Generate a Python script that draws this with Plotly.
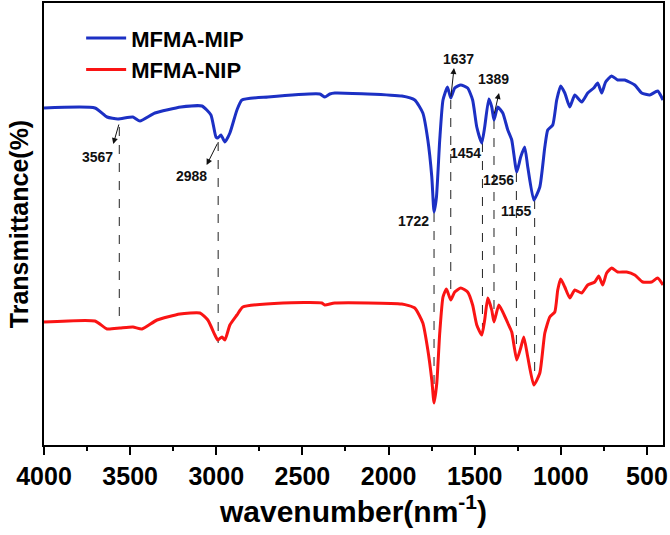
import plotly.graph_objects as go

# ---- data (wavenumber, relative transmittance, arbitrary units) ----
mip_wn = [4000, 3704, 3634, 3571, 3484, 3443, 3356, 3205, 3083, 3031, 3002, 2991, 2973, 2950, 2921,
          2880, 2851, 2700, 2399, 2370, 2341, 2312, 1923, 1848, 1801, 1772, 1749, 1736, 1722, 1703,
          1684, 1658, 1639, 1616, 1581, 1541, 1512, 1488, 1459, 1442, 1418, 1401, 1388, 1366, 1337,
          1308, 1285, 1256, 1233, 1210, 1192, 1157, 1122, 1093, 1076, 1047, 1024, 1001, 977, 948,
          919, 879, 844, 809, 786, 763, 740, 705, 670, 629, 571, 531, 484, 438, 407]
mip_t = [337, 337, 328, 326, 328, 324, 332, 338, 339, 330, 308, 307, 310, 303, 312,
         335, 345, 348, 351, 348, 351, 352, 349, 345, 332, 305, 268, 233, 248, 305,
         345, 358, 347, 357, 360, 357, 345, 318, 302, 318, 346, 338, 325, 338, 332,
         315, 305, 273, 288, 298, 278, 245, 258, 298, 315, 320, 345, 359, 352, 338,
         350, 343, 352, 357, 362, 352, 363, 369, 365, 365, 360, 352, 350, 354, 345]

nip_wn = [4000, 3704, 3634, 3559, 3484, 3431, 3344, 3211, 3095, 3049, 3008, 2991, 2967, 2950, 2921,
          2880, 2846, 2613, 2387, 2370, 2312, 1923, 1848, 1801, 1772, 1749, 1736, 1720, 1703, 1684,
          1664, 1639, 1616, 1581, 1541, 1512, 1488, 1459, 1442, 1424, 1401, 1388, 1360, 1337, 1308,
          1285, 1256, 1233, 1215, 1192, 1157, 1122, 1093, 1064, 1035, 1018, 1001, 977, 948, 919,
          879, 844, 803, 780, 757, 734, 705, 670, 618, 571, 525, 473, 438, 407]
nip_t = [123, 124, 116, 117, 118, 116, 125, 131, 132, 125, 110, 105, 108, 105, 120,
         130, 138, 142, 142, 140, 142, 141, 137, 122, 95, 65, 42, 62, 112, 148,
         156, 145, 153, 157, 153, 140, 120, 110, 125, 147, 135, 123, 140, 133, 122,
         113, 85, 97, 108, 88, 60, 72, 112, 128, 133, 155, 166, 158, 147, 155,
         152, 160, 163, 169, 160, 172, 177, 173, 173, 170, 163, 163, 167, 160]

# peak markers: label, line position, dashed line top/bottom, label position
peak_labels = ["3567", "2988", "1722", "1637", "1454", "1389", "1256", "1155"]
peak_line_x = [3563, 2989, 1736, 1639, 1455, 1388, 1258, 1152]
peak_line_top = [318, 303, 232, 345, 302, 325, 272, 245]
peak_line_bot = [122, 102, 42, 145, 118, 123, 95, 68]
label_x = [3692, 3141, 1857, 1592, 1554, 1393, 1364, 1258]
label_y = [288, 269, 224, 386, 292, 366, 265, 234]
# arrows (tail on curve -> head)
arrow_tail_x = [3563, 2989, 1639, 1388]
arrow_tail_y = [322, 303, 347, 330]
arrow_head_x = [3598, 3056, 1620, 1359]
arrow_head_y = [301, 280, 377, 352]

xticks = [4000, 3500, 3000, 2500, 2000, 1500, 1000, 500]

FONT = "Liberation Sans, Arial, sans-serif"
BLUE = "#1c30c4"
RED = "#fa1414"

fig = go.Figure()
fig.add_trace(go.Scatter(x=mip_wn, y=mip_t, mode="lines", name="<b>MFMA-MIP</b>",
                         line=dict(color=BLUE, width=3, shape="spline", smoothing=0.5)))
fig.add_trace(go.Scatter(x=nip_wn, y=nip_t, mode="lines", name="<b>MFMA-NIP</b>",
                         line=dict(color=RED, width=3, shape="spline", smoothing=0.5)))

for x, y0, y1 in zip(peak_line_x, peak_line_top, peak_line_bot):
    fig.add_shape(type="line", x0=x, x1=x, y0=y0, y1=y1, xref="x", yref="y",
                  line=dict(color="#222222", width=1, dash="dash"), layer="below")

for t, x, y in zip(peak_labels, label_x, label_y):
    fig.add_annotation(x=x, y=y, text=f"<b>{t}</b>", showarrow=False,
                       font=dict(family=FONT, size=14, color="#111111"))

for tx, ty, hx, hy in zip(arrow_tail_x, arrow_tail_y, arrow_head_x, arrow_head_y):
    fig.add_annotation(x=hx, y=hy, ax=tx, ay=ty, xref="x", yref="y", axref="x", ayref="y",
                       text="", showarrow=True, arrowhead=2, arrowsize=1.2, arrowwidth=1,
                       arrowcolor="#111111")

fig.update_layout(
    width=670, height=535,
    margin=dict(l=44, r=7, t=3, b=90),
    plot_bgcolor="white", paper_bgcolor="white",
    font=dict(family=FONT, color="black"),
    showlegend=True,
    legend=dict(x=0.06, y=0.968, xanchor="left", yanchor="top",
                font=dict(family=FONT, size=22, color="black"),
                bgcolor="rgba(0,0,0,0)", itemwidth=40, tracegroupgap=0),
    xaxis=dict(range=[4000, 407], tickvals=xticks, ticktext=[f"<b>{v}</b>" for v in xticks],
               ticks="outside", ticklen=8, tickwidth=2, tickcolor="black",
               minor=dict(dtick=250, ticks="outside", ticklen=4, tickwidth=2, tickcolor="black"),
               showline=True, linewidth=2, linecolor="black", mirror=True,
               showgrid=False, zeroline=False, automargin=False,
               tickfont=dict(family=FONT, size=25, color="black"),
               title=dict(text="<b>wavenumber(nm<sup>-1</sup>)</b>",
                          font=dict(family=FONT, size=30, color="black"), standoff=12)),
    yaxis=dict(range=[0, 442], showticklabels=False, ticks="",
               showline=True, linewidth=2, linecolor="black", mirror=True,
               showgrid=False, zeroline=False, automargin=False,
               title=dict(text="<b>Transmittance(%)</b>",
                          font=dict(family=FONT, size=25, color="black"), standoff=6)),
)

fig.write_html("out.html", config={"displayModeBar": False},
               post_script="document.body.style.margin='0';document.body.style.padding='0';")
